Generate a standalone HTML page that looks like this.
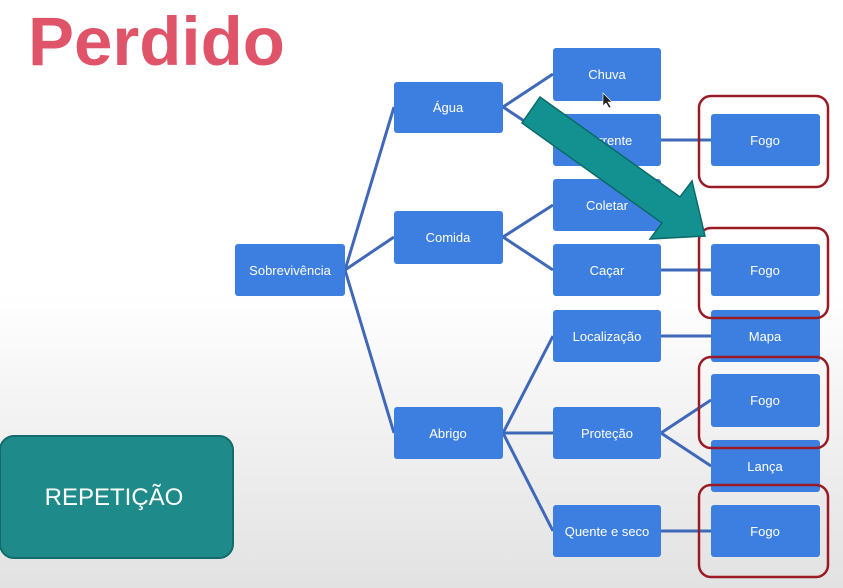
<!DOCTYPE html>
<html><head><meta charset="utf-8"><style>
html,body{margin:0;padding:0}
body{width:843px;height:588px;overflow:hidden;background:linear-gradient(180deg,#ffffff 0%,#ffffff 50%,#f3f3f3 70%,#e2e2e2 100%);font-family:"Liberation Sans",sans-serif}
</style></head><body>
<svg width="843" height="588" viewBox="0 0 843 588" xmlns="http://www.w3.org/2000/svg" style="position:absolute;left:0;top:0">
<text x="28" y="65" font-family="Liberation Sans, sans-serif" font-weight="bold" font-size="69" fill="#e0546a">Perdido</text>
<rect x="0" y="436" width="233" height="122" rx="14" fill="#1e8a8a" stroke="#136b6b" stroke-width="2"/>
<text x="114" y="505" text-anchor="middle" font-size="24" fill="#ffffff" font-family="Liberation Sans, sans-serif">REPETIÇÃO</text>
<g stroke="#3f68b8" stroke-width="3" fill="none">
<line x1="345" y1="270" x2="394" y2="107"/>
<line x1="345" y1="270" x2="394" y2="237"/>
<line x1="345" y1="270" x2="394" y2="433"/>
<line x1="503" y1="107" x2="553" y2="74"/>
<line x1="503" y1="107" x2="553" y2="140"/>
<line x1="503" y1="237" x2="553" y2="205"/>
<line x1="503" y1="237" x2="553" y2="270"/>
<line x1="503" y1="433" x2="553" y2="336"/>
<line x1="503" y1="433" x2="553" y2="433"/>
<line x1="503" y1="433" x2="553" y2="531"/>
<line x1="661" y1="140" x2="711" y2="140"/>
<line x1="661" y1="270" x2="711" y2="270"/>
<line x1="661" y1="336" x2="711" y2="336"/>
<line x1="661" y1="433" x2="711" y2="400"/>
<line x1="661" y1="433" x2="711" y2="466"/>
<line x1="661" y1="531" x2="711" y2="531"/>
</g>
<g fill="#3d7fe0">
<rect x="235" y="244" width="110" height="52" rx="3"/>
<rect x="394" y="82" width="109" height="51" rx="3"/>
<rect x="394" y="211" width="109" height="53" rx="3"/>
<rect x="394" y="407" width="109" height="52" rx="3"/>
<rect x="553" y="48" width="108" height="53" rx="3"/>
<rect x="553" y="114" width="108" height="52" rx="3"/>
<rect x="553" y="179" width="108" height="52" rx="3"/>
<rect x="553" y="244" width="108" height="52" rx="3"/>
<rect x="553" y="310" width="108" height="52" rx="3"/>
<rect x="553" y="407" width="108" height="52" rx="3"/>
<rect x="553" y="505" width="108" height="52" rx="3"/>
<rect x="711" y="114" width="109" height="52" rx="3"/>
<rect x="711" y="244" width="109" height="52" rx="3"/>
<rect x="711" y="310" width="109" height="52" rx="3"/>
<rect x="711" y="374" width="109" height="53" rx="3"/>
<rect x="711" y="440" width="109" height="52" rx="3"/>
<rect x="711" y="505" width="109" height="52" rx="3"/>
</g>
<g fill="#ffffff" font-size="13" text-anchor="middle" font-family="Liberation Sans, sans-serif">
<text x="290" y="275">Sobrevivência</text>
<text x="448" y="112">Água</text>
<text x="448" y="242">Comida</text>
<text x="448" y="438">Abrigo</text>
<text x="607" y="79">Chuva</text>
<text x="607" y="145">Corrente</text>
<text x="607" y="210">Coletar</text>
<text x="607" y="275">Caçar</text>
<text x="607" y="341">Localização</text>
<text x="607" y="438">Proteção</text>
<text x="607" y="536">Quente e seco</text>
<text x="765" y="145">Fogo</text>
<text x="765" y="275">Fogo</text>
<text x="765" y="341">Mapa</text>
<text x="765" y="405">Fogo</text>
<text x="765" y="471">Lança</text>
<text x="765" y="536">Fogo</text>
</g>
<g fill="none" stroke="#9a1a25" stroke-width="2.5">
<rect x="699" y="96" width="129" height="91" rx="12"/>
<rect x="699" y="228" width="129" height="90" rx="12"/>
<rect x="699" y="357" width="129" height="91" rx="12"/>
<rect x="699" y="485" width="129" height="92" rx="12"/>
</g>
<polygon points="540,97 522,123 662,223 650,239 705,236 692,181 680,197" fill="#139090" stroke="#0b6a6a" stroke-width="1.5"/>
<polygon points="603,93 603,106 606,103 609,108 611,107 608,102 612,102" fill="#222" stroke="#fff" stroke-width="0.6"/>
</svg>
</body></html>
